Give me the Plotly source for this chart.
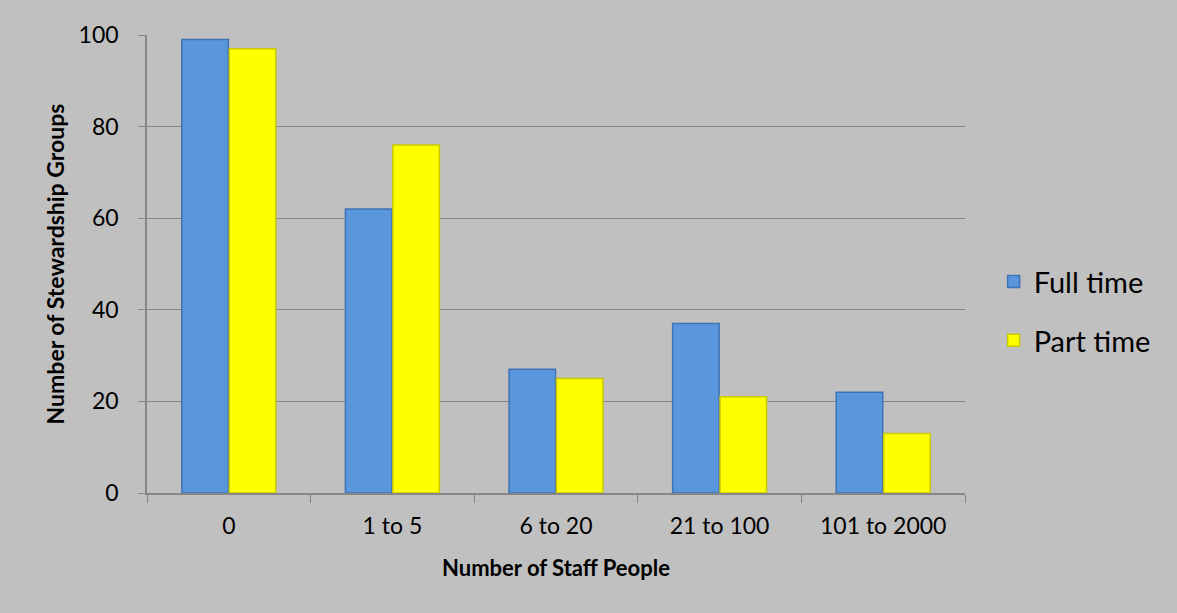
import plotly.graph_objects as go

categories = ["0", "1 to 5", "6 to 20", "21 to 100", "101 to 2000"]
full_time = [99, 62, 27, 37, 22]
part_time = [97, 76, 25, 21, 13]
y_ticks = [0, 20, 40, 60, 80, 100]

FONT = "Lato, Open Sans, sans-serif"

fig = go.Figure()
fig.add_trace(go.Bar(
    name="Full time", x=categories, y=full_time, legendgroup="a",
    marker=dict(color="#5A96DC", line=dict(color="#3F72B5", width=1.5)),
))
fig.add_trace(go.Bar(
    name="Part time", x=categories, y=part_time, legendgroup="b",
    marker=dict(color="#FFFF00", line=dict(color="#C9C900", width=1.5)),
))

fig.update_layout(
    width=1177, height=613,
    paper_bgcolor="#C0C0C0", plot_bgcolor="#C0C0C0",
    margin=dict(l=147, r=212, t=35, b=120),
    barmode="group", bargap=0.42, bargroupgap=0.02,
    font=dict(family=FONT, size=22, color="#000000"),
    legend=dict(x=1.035, y=0.397, xanchor="left", yanchor="middle",
                font=dict(size=29, family=FONT), tracegroupgap=18,
                itemwidth=30, bgcolor="rgba(0,0,0,0)"),
    xaxis=dict(
        title=dict(text="<b>Number of Staff People</b>", font=dict(size=22, family=FONT), standoff=22),
        showline=True, linecolor="#868686", linewidth=1.5,
        ticks="outside", ticklen=8, tickcolor="#868686",
        tickson="boundaries", showgrid=False,
        ticklabelstandoff=12,
        tickfont=dict(size=23, family=FONT),
    ),
    yaxis=dict(
        title=dict(text="<b>Number of Stewardship Groups</b>", font=dict(size=23, family=FONT), standoff=8),
        range=[0, 100], tickvals=y_ticks,
        showline=True, linecolor="#868686", linewidth=1.5,
        ticks="outside", ticklen=7, tickcolor="#868686",
        showgrid=True, gridcolor="#868686", gridwidth=1.2,
        zeroline=False, ticklabelstandoff=15,
        tickfont=dict(size=23, family=FONT),
    ),
)

fig.write_html("out.html", config={"displayModeBar": False},
               post_script="document.body.style.margin='0';document.body.style.background='#C0C0C0';")
